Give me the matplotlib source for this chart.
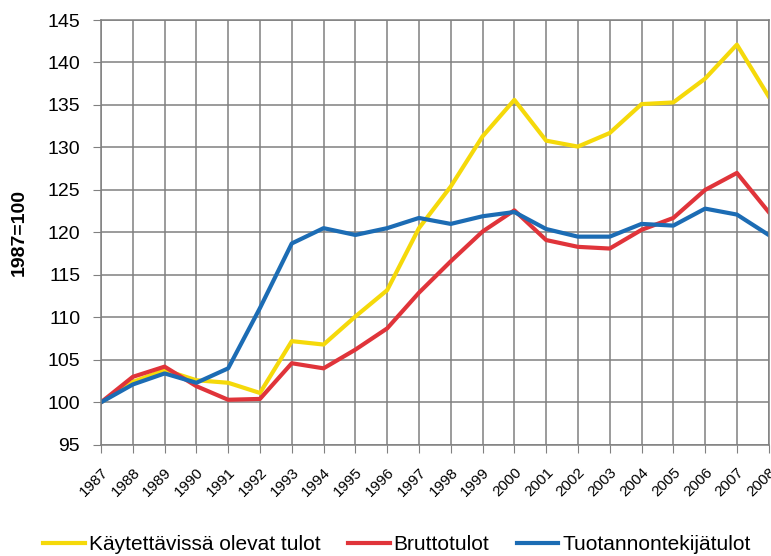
import matplotlib.pyplot as plt
from matplotlib.lines import Line2D

years = [str(y) for y in range(1987, 2009)]
kaytettavissa = [100, 102.4, 103.8, 102.6, 102.3, 101.1, 107.2, 106.8, 110.1, 113.2, 120.5,
                 125.4, 131.3, 135.6, 130.8, 130.1, 131.7, 135.1, 135.3, 138.1, 142.1, 136.0]
brutto = [100, 103.0, 104.2, 101.9, 100.3, 100.4, 104.6, 104.0, 106.2, 108.7, 112.9,
          116.6, 120.1, 122.6, 119.1, 118.3, 118.1, 120.3, 121.7, 125.0, 127.0, 122.4]
tuotannontekija = [100, 102.1, 103.4, 102.3, 104.0, 111.1, 118.7, 120.5, 119.7, 120.5, 121.7,
                   121.0, 121.9, 122.4, 120.4, 119.5, 119.5, 121.0, 120.8, 122.8, 122.1, 119.7]
series_names = ["Käytettävissä olevat tulot", "Bruttotulot", "Tuotannontekijätulot"]
series_colors = ["#f5d90a", "#e0343a", "#1c6cb4"]

plt.rcParams["font.family"] = ["Liberation Sans", "DejaVu Sans"]

fig = plt.figure(figsize=(7.71, 5.56), dpi=100)
ax = fig.add_axes([0.131, 0.2, 0.866, 0.764])

x = range(len(years))
for vals, name, c in zip([kaytettavissa, brutto, tuotannontekija], series_names, series_colors):
    ax.plot(x, vals, color=c, linewidth=3, label=name)

ax.set_xlim(0, len(years) - 1)
ax.set_ylim(95, 145)
ax.set_yticks(range(95, 146, 5))
ax.set_xticks(list(x))
ax.set_xticklabels(years, rotation=45, ha="right", rotation_mode="anchor", fontsize=11)
ax.tick_params(axis="y", labelsize=14, length=6, color="#808080", pad=9)
ax.tick_params(axis="x", length=6, color="#808080", pad=9)
ax.grid(True, color="#808080", linewidth=1.1)
ax.set_axisbelow(True)
for s in ax.spines.values():
    s.set_color("#808080")
    s.set_linewidth(1.1)
ax.set_ylabel("1987=100", fontsize=14, fontweight="bold")
ax.yaxis.set_label_coords(-0.11, 0.5)

handles = [Line2D([], [], color=c, linewidth=3) for c in series_colors]
fig.legend(handles, series_names, loc="lower center", bbox_to_anchor=(0.515, -0.03), ncol=3,
           frameon=False, fontsize=15, handlelength=2.0, handletextpad=0.2, columnspacing=1.3)

fig.savefig("out.png", dpi=100)
